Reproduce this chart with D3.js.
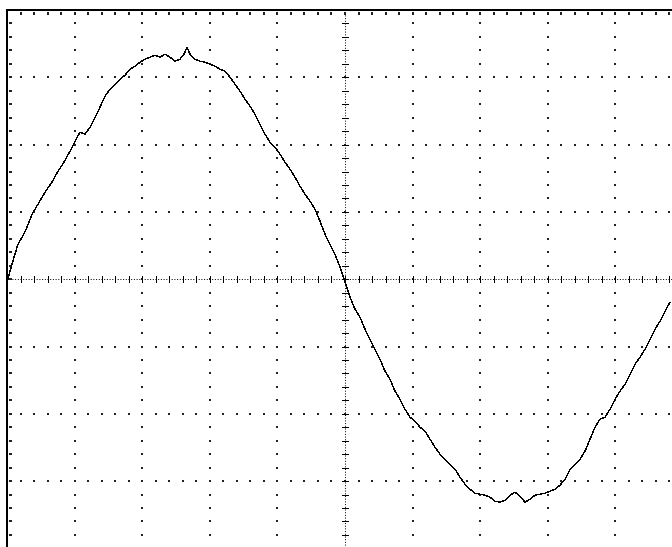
<!DOCTYPE html>
<html>
<head>
<meta charset="utf-8">
<script src="https://cdn.jsdelivr.net/npm/d3@7"></script>
<style>
  body { margin: 0; background: #fff; }
  svg { display: block; }
</style>
</head>
<body>
<div id="scope"></div>
<script>
// trace samples (sample index, ADC counts)
var sampleT = [0, 3, 7, 11, 15, 20, 25, 31, 38, 45, 51, 57, 63, 69,
    73, 78, 83, 88, 93, 98, 103, 108, 113, 118, 123, 128, 133, 138, 143, 148, 153, 158, 163, 168, 173,
    177, 180, 183,
    188, 193, 198, 203, 208, 213, 218, 223, 228, 233,
    238, 243, 248, 253, 258, 263, 268, 273, 278, 283,
    288, 293, 298, 303, 308, 313, 318, 323, 328, 333,
    338, 343, 348, 353, 358, 363, 368, 373, 378, 383,
    388, 393, 398, 403, 408, 413, 418, 423, 428, 433,
    438, 443, 448, 453, 458, 463, 468, 473, 478, 483,
    488, 493, 498, 503, 508, 513, 518, 523, 528, 533,
    538, 543, 548, 553, 558, 563, 568, 573, 578, 583,
    588, 593, 598, 603, 608, 613, 618, 623, 628, 633,
    638, 643, 648, 653, 658, 663];

var sampleV = [-3, 8, 22, 35, 42, 52, 65, 75, 87, 97, 108, 117, 128, 140,
    147, 145, 152, 162, 172, 183, 190, 195, 200, 204, 210, 213, 217, 220, 222, 224, 222, 225, 222, 218, 220,
    225, 232, 225,
    220, 218, 217, 215, 213, 210, 208, 202, 195, 188,
    180, 173, 165, 155, 145, 137, 132, 125, 117, 110,
    102, 93, 85, 78, 70, 58, 45, 35, 25, 12,
    -3, -18, -30, -38, -50, -60, -70, -80, -92, -100,
    -112, -120, -130, -138, -142, -148, -152, -160, -168, -175,
    -180, -185, -190, -198, -205, -210, -214, -215, -216, -218,
    -222, -223, -221, -216, -213, -217, -223, -220, -216, -215,
    -214, -212, -210, -206, -200, -190, -185, -180, -172, -160,
    -148, -140, -138, -130, -120, -112, -105, -95, -85, -78,
    -70, -60, -50, -42, -32, -23];

// screen layout in divisions
var xDivs = d3.range(0, 11),
    yDivs = d3.range(-4, 5),
    samplesPerDiv = 67.6,
    countsPerDiv = 67.3;

var width = 672, height = 547;

var x = d3.scaleLinear().domain([0, 10]).range([7, 683]);
var y = d3.scaleLinear().domain([-4, 4]).range([548.4, 10]);

var svg = d3.select("#scope").append("svg")
    .attr("width", width)
    .attr("height", height);

var minorX = d3.range(0, 50.5).map(function(i) { return i / 5; }),
    minorY = d3.range(-20, 20.5).map(function(i) { return i / 5; });

// dotted graticule lines
var dots = [];
xDivs.filter(function(d) { return d > 0 && d < 10 && d != 5; }).forEach(function(d) {
    minorY.forEach(function(m) { dots.push([d, m]); });
});
yDivs.filter(function(d) { return d > -4 && d < 4 && d != 0; }).forEach(function(d) {
    minorX.forEach(function(m) { dots.push([m, d]); });
});

svg.append("g").selectAll("rect")
    .data(dots)
    .join("rect")
    .attr("x", d => Math.round(x(d[0])) - 1)
    .attr("y", d => Math.round(y(d[1])) - 1)
    .attr("width", 2)
    .attr("height", 2)
    .attr("fill", "#222");

// center axes, fine dotted
var axes = svg.append("g").attr("stroke", "#000").attr("stroke-width", 1);
axes.append("line")
    .attr("x1", x(0)).attr("x2", x(10))
    .attr("y1", Math.round(y(0)) + 0.5).attr("y2", Math.round(y(0)) + 0.5)
    .attr("stroke-dasharray", "1,1.7");
axes.append("line")
    .attr("y1", y(4)).attr("y2", y(-4))
    .attr("x1", Math.round(x(5)) + 0.5).attr("x2", Math.round(x(5)) + 0.5)
    .attr("stroke-dasharray", "1,1.7");

// tick marks on center axes
axes.append("g").selectAll("line")
    .data(minorX)
    .join("line")
    .attr("x1", d => Math.round(x(d)) + 0.5)
    .attr("x2", d => Math.round(x(d)) + 0.5)
    .attr("y1", Math.round(y(0)) - 3)
    .attr("y2", Math.round(y(0)) + 4);
axes.append("g").selectAll("line")
    .data(minorY)
    .join("line")
    .attr("y1", d => Math.round(y(d)) + 0.5)
    .attr("y2", d => Math.round(y(d)) + 0.5)
    .attr("x1", Math.round(x(5)) - 3)
    .attr("x2", Math.round(x(5)) + 4);

// small tick dots just inside the frame edges
var edge = svg.append("g").attr("fill", "#222");
edge.selectAll(".tt")
    .data(minorX)
    .join("rect")
    .attr("class", "tt")
    .attr("x", d => Math.round(x(d)) - 1)
    .attr("y", Math.round(y(4)) + 2)
    .attr("width", 2)
    .attr("height", 3);
edge.selectAll(".tl")
    .data(minorY)
    .join("rect")
    .attr("class", "tl")
    .attr("y", d => Math.round(y(d)) - 1)
    .attr("x", Math.round(x(0)) + 2)
    .attr("width", 3)
    .attr("height", 2);

// frame
svg.append("rect")
    .attr("x", x(0))
    .attr("y", y(4))
    .attr("width", x(10) - x(0))
    .attr("height", y(-4) - y(4))
    .attr("fill", "none")
    .attr("stroke", "#000")
    .attr("stroke-width", 2);

// trace
var trace = d3.line()
    .x(function(d, i) { return x(sampleT[i] / samplesPerDiv); })
    .y(function(d, i) { return y(sampleV[i] / countsPerDiv); });

svg.append("path")
    .datum(sampleT)
    .attr("d", trace)
    .attr("fill", "none")
    .attr("stroke", "#000")
    .attr("stroke-width", 1.5)
    .attr("stroke-linejoin", "round")
    .attr("shape-rendering", "crispEdges");
</script>
</body>
</html>
